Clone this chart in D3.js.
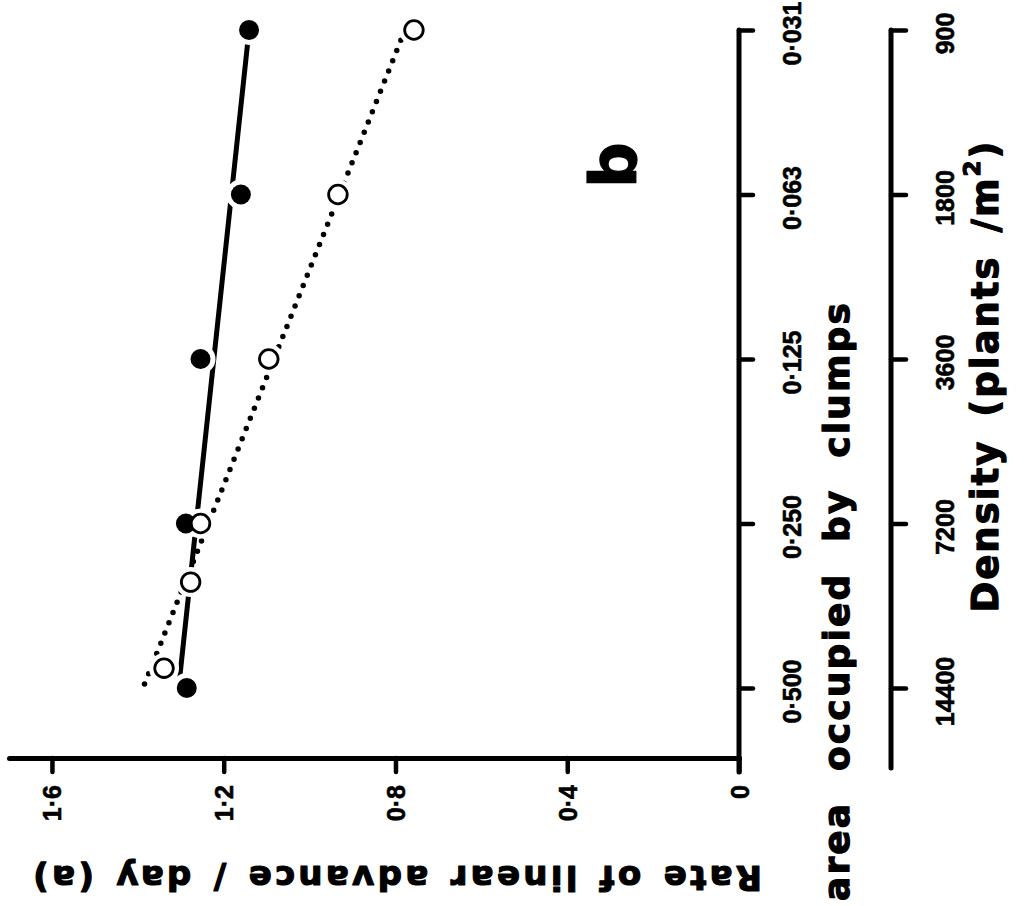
<!DOCTYPE html>
<html><head><meta charset="utf-8">
<script src="https://cdn.jsdelivr.net/npm/d3@7"></script>
<style>
html,body{margin:0;padding:0;background:#fff;}
svg{display:block;}
</style></head>
<body>
<svg id="chart" width="1026" height="906"></svg>
<script>
// ---- data ----
const areaTicks = [0.03125, 0.0625, 0.125, 0.25, 0.5];
const areaTickLabels = ["0·031", "0·063", "0·125", "0·250", "0·500"];
const densityTicks = [900, 1800, 3600, 7200, 14400];
const densityTickLabels = ["900", "1800", "3600", "7200", "14400"];
const rateTicks = [0, 0.4, 0.8, 1.2, 1.6];
const rateTickLabels = ["0", "0·4", "0·8", "1·2", "1·6"];
const filledArea = [0.03125, 0.0625, 0.125, 0.25, 0.5];
const filledRate = [1.141, 1.160, 1.254, 1.288, 1.286];
const openArea = [0.03125, 0.0625, 0.125, 0.25, 0.32, 0.46];
const openRate = [0.757, 0.934, 1.095, 1.254, 1.277, 1.339];
const filledFitArea = [0.03125, 0.5];
const filledFitRate = [1.141, 1.305];
const openFitArea = [0.03125, 0.5];
const openFitRate = [0.778, 1.388];
const rateTitle = "Rate of linear advance / day (a)";
const areaTitle = "area occupied by clumps";
const densityTitleMain = "Density (plants /m";
const panelLabel = "b";

// ---- layout ----
const svg = d3.select("#chart");
const rateAxisY = 758, areaAxisX = 739, densityAxisX = 891;
const x = d3.scaleLinear().domain([0, 1.7]).range([739, 9]);
const y = d3.scaleLog().base(2).domain([0.03125, 0.5]).range([30, 688]);
const yd = d3.scaleLog().base(2).domain([900, 14400]).range([30, 688]);
const tickFont = "'Liberation Sans', Arial, sans-serif";
const titleFont = "'DejaVu Sans', Verdana, sans-serif";

function styleAxis(g) {
  g.attr("font-family", tickFont).attr("font-size", 25).attr("font-weight", "bold");
  g.selectAll(".tick line").attr("stroke", "#000").attr("stroke-width", 4.5).attr("stroke-linecap", "round");
  g.selectAll(".tick text").attr("fill", "#000").attr("stroke", "#000").attr("stroke-width", 0.6);
}

// rate axis (horizontal)
const rateAxis = d3.axisBottom(x).tickValues(rateTicks).tickSize(14).tickSizeOuter(0)
  .tickFormat((d, i) => rateTickLabels[i]);
const gR = svg.append("g").attr("transform", `translate(0,${rateAxisY})`).call(rateAxis);
styleAxis(gR);
gR.select(".domain").attr("stroke", "#000").attr("stroke-width", 5).attr("stroke-linecap", "round");
gR.selectAll(".tick text").attr("y", null).attr("dy", "0.36em").attr("text-anchor", "end")
  .attr("font-size", 25).attr("transform", "translate(0,27) rotate(-90)");

// area axis (vertical)
const areaAxis = d3.axisRight(y).tickValues(areaTicks).tickSize(14).tickSizeOuter(0)
  .tickFormat((d, i) => areaTickLabels[i]);
const gA = svg.append("g").attr("transform", `translate(${areaAxisX},0)`).call(areaAxis);
styleAxis(gA);
gA.select(".domain").remove();
gA.append("line").attr("x1", 0).attr("x2", 0).attr("y1", y(areaTicks[0])).attr("y2", rateAxisY + 14)
  .attr("stroke", "#000").attr("stroke-width", 5).attr("stroke-linecap", "round");
gA.selectAll(".tick text").attr("x", null).attr("dy", null).attr("text-anchor", "middle")
  .attr("transform", "translate(62,3) rotate(-90)");

// density axis (vertical)
const densAxis = d3.axisRight(yd).tickValues(densityTicks).tickSize(15).tickSizeOuter(0)
  .tickFormat((d, i) => densityTickLabels[i]);
const gD = svg.append("g").attr("transform", `translate(${densityAxisX},0)`).call(densAxis);
styleAxis(gD);
gD.select(".domain").remove();
gD.append("line").attr("x1", 0).attr("x2", 0).attr("y1", yd(densityTicks[0])).attr("y2", rateAxisY + 10)
  .attr("stroke", "#000").attr("stroke-width", 5).attr("stroke-linecap", "round");
gD.selectAll(".tick text").attr("x", null).attr("dy", null).attr("text-anchor", "middle")
  .attr("transform", "translate(63,3) rotate(-90)");

// ---- series ----
const line = d3.line().x(d => x(d.r)).y(d => y(d.a));
const filledFit = filledFitArea.map((a, i) => ({a, r: filledFitRate[i]}));
const openFit = openFitArea.map((a, i) => ({a, r: openFitRate[i]}));
const filled = filledArea.map((a, i) => ({a, r: filledRate[i]}));
const open = openArea.map((a, i) => ({a, r: openRate[i]}));

svg.append("path").datum(openFit).attr("d", line).attr("fill", "none").attr("stroke", "#000")
  .attr("stroke-width", 5.5).attr("stroke-linecap", "round").attr("stroke-dasharray", "0 11");
svg.append("path").datum(filledFit).attr("d", line).attr("fill", "none").attr("stroke", "#000")
  .attr("stroke-width", 5);

// halos
svg.append("g").selectAll("circle").data(filled.concat(open)).join("circle")
  .attr("cx", d => x(d.r)).attr("cy", d => y(d.a)).attr("r", 15).attr("fill", "#fff");
// markers
svg.append("g").selectAll("circle").data(filled).join("circle")
  .attr("cx", d => x(d.r)).attr("cy", d => y(d.a)).attr("r", 10).attr("fill", "#000");
svg.append("g").selectAll("circle").data(open).join("circle")
  .attr("cx", d => x(d.r)).attr("cy", d => y(d.a)).attr("r", 9.3).attr("fill", "#fff")
  .attr("stroke", "#000").attr("stroke-width", 2.8);

// ---- titles ----
function fit(t, target) {
  const n = t.text().length;
  const L = t.node().getComputedTextLength();
  t.attr("letter-spacing", (target - L) / n);
}
function heavy(t) { return t.attr("stroke", "#000").attr("stroke-width", 1.2).attr("stroke-linejoin", "round"); }

const tRate = svg.append("text").attr("transform", "translate(396,866) rotate(180)")
  .attr("text-anchor", "middle").attr("font-family", titleFont).attr("font-weight", "bold")
  .attr("font-size", 34).attr("word-spacing", 4).text(rateTitle);
heavy(tRate);
fit(tRate, 732);

const tArea = svg.append("text").attr("transform", "translate(849,601) rotate(-90)")
  .attr("text-anchor", "middle").attr("font-family", titleFont).attr("font-weight", "bold")
  .attr("font-size", 36).attr("word-spacing", 16).text(areaTitle);
heavy(tArea);
fit(tArea, 600);

const tDen = svg.append("text").attr("transform", "translate(998,376) rotate(-90)")
  .attr("text-anchor", "middle").attr("font-family", titleFont).attr("font-weight", "bold")
  .attr("font-size", 37).attr("word-spacing", 8);
tDen.append("tspan").text(densityTitleMain);
tDen.append("tspan").attr("font-size", 23).attr("dy", "-0.8em").text("2");
tDen.append("tspan").attr("dy", "0.5em").text(")");
heavy(tDen);
{
  const L = tDen.node().getComputedTextLength();
  const n = tDen.text().length;
  tDen.attr("letter-spacing", (473 - L) / n);
}

heavy(svg.append("text").attr("transform", "translate(636,165) rotate(-90)")
  .attr("text-anchor", "middle").attr("font-family", titleFont).attr("font-weight", "bold")
  .attr("font-size", 64).text(panelLabel));
</script>
</body></html>
